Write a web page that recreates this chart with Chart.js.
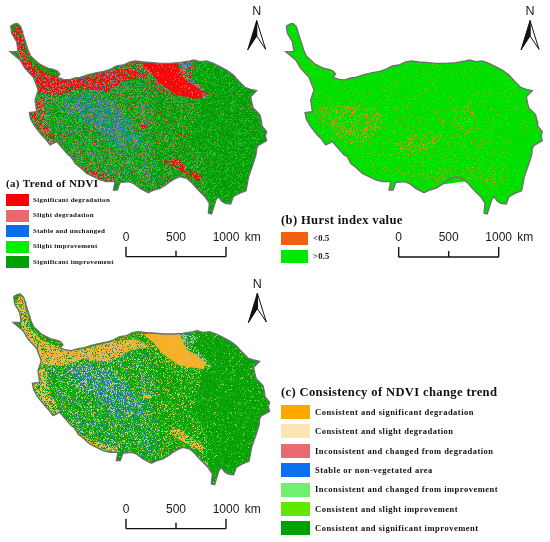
<!DOCTYPE html>
<html>
<head>
<meta charset="utf-8">
<script src="https://cdn.jsdelivr.net/npm/chart.js@4"></script>
<style>
  html, body { margin: 0; padding: 0; background: #fff; }
  #page { position: relative; width: 550px; height: 542px; overflow: hidden; }
  canvas { position: absolute; filter: blur(0.3px); }
  .title, .label { position: absolute; font-family: "Liberation Serif", serif; font-weight: bold; color: #111; white-space: nowrap; line-height: 1; filter: blur(0.25px); }
  .swatch { position: absolute; }
</style>
</head>
<body>
<div id="page"></div>
<script>
// legend text
const trend_labels = ["Significant degradation", "Slight degradation", "Stable and unchanged", "Slight improvement", "Significant improvement"];
const hurst_labels = ["<0.5", ">0.5"];
const consistency_labels = ["Consistent and significant degradation", "Consistent and slight degradation", "Inconsistent and changed from degradation", "Stable or non-vegetated area", "Inconsistent and changed from improvement", "Consistent and slight improvement", "Consistent and significant improvement"];
const scale_ticks_km = [0, 500, 1000];

// map shapes, in grid units (3 units = 10 km)
const plateau_outline = [[32,78],[42,72],[52,70],[62,80],[66,92],[68,100],[73,115],[78,130],[84,150],[92,168],[115,190],[130,198],[145,205],[160,208],[172,213],[180,222],[172,232],[190,238],[205,240],[225,234],[240,232],[265,224],[290,218],[312,214],[330,208],[350,198],[370,195],[388,186],[405,183],[430,186],[450,187],[480,190],[510,190],[540,188],[570,183],[582,180],[600,185],[620,183],[640,190],[660,200],[682,212],[700,225],[718,245],[735,262],[752,268],[770,272],[752,290],[756,310],[760,325],[772,336],[780,345],[784,362],[786,378],[800,395],[796,408],[800,422],[775,436],[770,445],[768,465],[760,490],[746,530],[742,552],[738,572],[718,580],[700,590],[692,612],[676,610],[665,604],[655,590],[648,600],[640,625],[635,642],[625,640],[628,610],[615,590],[600,575],[590,565],[575,548],[560,535],[540,530],[525,536],[510,545],[495,556],[480,565],[462,570],[445,578],[420,565],[400,550],[385,545],[360,548],[352,570],[340,570],[345,545],[320,545],[300,540],[280,530],[260,520],[240,502],[225,490],[215,470],[205,465],[185,442],[170,425],[150,435],[138,418],[125,405],[105,380],[92,358],[88,338],[110,335],[105,300],[115,270],[100,232],[75,205],[60,180],[30,155],[55,155],[50,125],[35,100],[32,78]];
const west_zone = [[105,300],[115,270],[175,285],[230,265],[300,270],[360,245],[430,240],[470,330],[450,420],[470,470],[470,567],[445,578],[420,565],[400,550],[385,545],[360,548],[345,545],[320,545],[300,540],[260,520],[225,490],[205,465],[170,425],[150,435],[125,405],[105,380],[92,358],[88,338],[110,335],[105,300]];
const mid_zone = [[430,240],[480,250],[530,285],[600,295],[590,340],[570,420],[610,480],[622,540],[615,590],[590,565],[560,535],[540,530],[510,545],[480,565],[470,567],[470,470],[450,420],[470,330],[430,240]];
const north_edge = [[330,208],[370,195],[405,183],[450,187],[480,250],[530,285],[600,295],[560,300],[480,275],[420,232],[400,205],[330,212],[330,208]];
const nw_strip = [[35,100],[50,75],[62,82],[70,115],[85,165],[115,195],[145,210],[170,222],[172,235],[205,242],[175,285],[115,280],[105,235],[75,205],[60,180],[52,155],[50,125],[35,100]];
const nw_green = [[74,128],[84,155],[92,168],[115,190],[145,205],[172,215],[176,226],[150,222],[112,205],[84,175],[74,128]];
const north_band = [[175,240],[240,235],[330,212],[400,205],[440,230],[380,240],[320,275],[240,265],[180,285],[115,280],[110,240],[175,240]];
const ne_rim = [[510,190],[570,183],[585,200],[570,225],[628,285],[612,300],[600,275],[550,235],[530,190],[510,190]];
const ne_block = [[420,190],[530,190],[550,235],[610,275],[602,296],[530,285],[480,250],[450,215],[420,190]];
const core_blue = [[190,290],[290,275],[340,300],[390,365],[425,430],[350,450],[290,385],[200,340],[190,290]];
const south_streak = [[480,482],[530,474],[560,500],[600,525],[600,545],[560,525],[510,495],[480,482]];
const sw_edge = [[225,490],[262,505],[300,520],[345,530],[345,545],[300,540],[260,520],[225,490]];
const west_edge = [[105,300],[130,290],[140,360],[170,425],[150,435],[125,405],[105,380],[92,358],[88,338],[110,335],[105,300]];
const mid_spot = [[420,372],[445,374],[442,384],[424,382],[420,372]];
const hurst_wide = [[110,300],[320,300],[420,380],[520,300],[640,300],[700,420],[700,560],[600,540],[450,560],[300,520],[200,440],[120,390],[110,300]];
const hurst_west = [[125,320],[260,315],[320,345],[320,385],[260,430],[210,430],[150,375],[125,320]];
const hurst_centre = [[360,430],[420,405],[500,410],[480,440],[400,470],[365,460],[360,430]];
const hurst_east = [[525,330],[590,310],[610,345],[590,400],[540,390],[525,330]];
const hurst_south = [[430,520],[520,500],[620,490],[690,540],[650,560],[560,530],[470,540],[430,520]];
const arrow_left = [[0,0],[-27,88],[0,46],[0,0]];
const arrow_right = [[0,0],[27,86],[0,46],[0,0]];

// colours
const trend_colors = ["#ff0000", "#e86a70", "#0a6ee8", "#00f000", "#00a000"];
const hurst_colors = ["#f06010", "#00e800"];
const consistency_colors = ["#ffa800", "#fde4b4", "#e86a70", "#0a70f0", "#70f070", "#60e800", "#00a000"];

const RED = "#f80808", PINK = "#c87a70", BLUE = "#2a80c8", LIME = "#1cc41c", GREEN = "#049c08";
const ORANGE = "#f8b020", BEIGE = "#c8c490", LEAF = "#30c010", DARK = "#06a008", HURST = "#c89a18", BRIGHT = "#00e000";

// mixing steps so the texture has no visible rows
function mixCell(x, y) {
    let h = Math.imul(x + 1, 73856093) ^ Math.imul(y + 1, 19349663);
    h = Math.imul(h ^ (h >>> 15), 2246822519);
    h = Math.imul(h ^ (h >>> 13), 3266489917);
    return (h ^ (h >>> 16)) >>> 0;
}

// speckled fill so the zones look like classified raster cells
function speckle(colors, weights) {
    const size = 120;
    const raw = document.createElement("canvas");
    raw.width = size;
    raw.height = size;
    const rawCtx = raw.getContext("2d");
    const total = weights.reduce((a, b) => a + b, 0);
    for (let y = 0; y < size; y++) {
        for (let x = 0; x < size; x++) {
            const cell = (mixCell(x, y) % 1000) / 1000 * total;
            let sum = 0;
            let pick = 0;
            for (let i = 0; i < weights.length; i++) {
                sum += weights[i];
                if (cell < sum) { pick = i; break; }
            }
            rawCtx.fillStyle = colors[pick];
            rawCtx.fillRect(x, y, 1, 1);
        }
    }
    // soften it the way the reference image is soft
    const tile = document.createElement("canvas");
    tile.width = size;
    tile.height = size;
    const ctx = tile.getContext("2d");
    ctx.drawImage(raw, 0, 0);
    ctx.filter = "blur(0.55px)";
    ctx.drawImage(raw, 0, 0);
    return ctx.createPattern(tile, "repeat");
}

const panel_a_zones = [
    [plateau_outline, speckle([GREEN, LIME, PINK], [80, 18, 2])],
    [mid_zone, speckle([GREEN, LIME, PINK, BLUE, RED], [68, 20, 9, 1, 2])],
    [west_zone, speckle([GREEN, LIME, PINK, BLUE, RED], [50, 25, 14, 9, 2])],
    [north_edge, speckle([GREEN, PINK, RED, LIME, BLUE], [38, 24, 18, 12, 8])],
    [nw_strip, speckle([RED, PINK, GREEN, BLUE], [50, 24, 20, 6])],
    [nw_green, speckle([GREEN, LIME, RED], [72, 20, 8])],
    [north_band, speckle([RED, PINK, BLUE, GREEN], [62, 20, 8, 10])],
    [ne_rim, speckle([PINK, BLUE, GREEN, RED], [36, 22, 26, 16])],
    [ne_block, speckle([RED, PINK], [94, 6])],
    [core_blue, speckle([BLUE, GREEN, PINK, LIME], [40, 30, 16, 14])],
    [west_edge, speckle([RED, PINK, GREEN], [22, 38, 40])],
    [sw_edge, speckle([RED, PINK, GREEN], [30, 30, 40])],
    [south_streak, speckle([RED, PINK, GREEN], [50, 24, 26])],
    [mid_spot, speckle([RED, PINK], [80, 20])],
];
const panel_b_zones = [
    [plateau_outline, speckle([BRIGHT, HURST], [98, 2])],
    [hurst_wide, speckle([BRIGHT, HURST], [94, 6])],
    [hurst_south, speckle([BRIGHT, HURST], [86, 14])],
    [hurst_east, speckle([BRIGHT, HURST], [82, 18])],
    [hurst_centre, speckle([BRIGHT, HURST], [74, 26])],
    [hurst_west, speckle([BRIGHT, HURST], [70, 30])],
];
const panel_c_zones = [
    [plateau_outline, speckle([DARK, LEAF, BEIGE], [86, 12, 2])],
    [mid_zone, speckle([DARK, LEAF, BEIGE, ORANGE], [66, 22, 9, 3])],
    [west_zone, speckle([DARK, LEAF, BEIGE, BLUE, ORANGE], [46, 26, 13, 12, 3])],
    [north_edge, speckle([DARK, LEAF, ORANGE, BEIGE], [52, 22, 14, 12])],
    [nw_strip, speckle([ORANGE, BEIGE, DARK, BLUE], [50, 22, 22, 6])],
    [nw_green, speckle([DARK, LEAF, ORANGE], [70, 22, 8])],
    [north_band, speckle([ORANGE, BEIGE, BLUE, DARK], [64, 20, 6, 10])],
    [ne_rim, speckle([BEIGE, BLUE, DARK, LEAF], [30, 20, 32, 18])],
    [ne_block, speckle([ORANGE, BEIGE], [92, 8])],
    [core_blue, speckle([BLUE, BEIGE, DARK, LEAF], [40, 24, 24, 12])],
    [west_edge, speckle([ORANGE, BEIGE, DARK], [34, 30, 36])],
    [sw_edge, speckle([ORANGE, BEIGE, DARK], [36, 28, 36])],
    [south_streak, speckle([ORANGE, BEIGE, DARK], [54, 18, 28])],
    [mid_spot, speckle([ORANGE, BEIGE], [85, 15])],
];

const UNITS_PER_KM = 0.3;
const page = document.getElementById("page");

function pts(list, dx, dy) {
    return list.map(p => ({ x: p[0] + (dx || 0), y: p[1] + (dy || 0) }));
}

function makePanel(cfg) {
    const canvas = document.createElement("canvas");
    canvas.width = cfg.w;
    canvas.height = cfg.h;
    canvas.style.left = cfg.left + "px";
    canvas.style.top = cfg.top + "px";
    page.appendChild(canvas);

    const sets = [];
    cfg.zones.forEach(z => {
        sets.push({ data: pts(z[0]), backgroundColor: z[1], borderWidth: 0, fill: "shape" });
    });
    sets.push({ data: pts(plateau_outline), borderColor: "#6e6e6e", borderWidth: 1.3, fill: false });

    // scale bar
    const barX = km => cfg.barX + km * UNITS_PER_KM;
    const barLine = { borderColor: "#111", borderWidth: 1.4, fill: false };
    sets.push({ ...barLine, data: [{ x: barX(0), y: cfg.barY }, { x: barX(1000), y: cfg.barY }] });
    scale_ticks_km.forEach(km => {
        const rise = km === 500 ? 18 : 30;
        sets.push({ ...barLine, data: [{ x: barX(km), y: cfg.barY }, { x: barX(km), y: cfg.barY - rise }] });
    });

    // north arrow
    sets.push({ data: pts(arrow_right, cfg.arrowX, cfg.arrowY), backgroundColor: "#fff", borderColor: "#111", borderWidth: 1, fill: "shape" });
    sets.push({ data: pts(arrow_left, cfg.arrowX, cfg.arrowY), backgroundColor: "#111", borderColor: "#111", borderWidth: 1, fill: "shape" });

    // first dataset is drawn on top, so give the later ones the lower order
    sets.forEach((s, i) => {
        s.order = sets.length - i;
        s.showLine = true;
        s.pointRadius = 0;
        s.tension = 0;
    });

    const mapText = {
        id: "mapText",
        afterDatasetsDraw(chart) {
            const { ctx, scales } = chart;
            ctx.save();
            ctx.fillStyle = "#1a1a1a";
            ctx.font = '12px "Liberation Sans", sans-serif';
            ctx.textAlign = "center";
            ctx.textBaseline = "middle";
            const y = scales.y.getPixelForValue(cfg.barY - 57);
            scale_ticks_km.forEach(km => {
                ctx.fillText(String(km), scales.x.getPixelForValue(barX(km)), y);
            });
            ctx.fillText("km", scales.x.getPixelForValue(barX(1000) + 80), y);
            ctx.font = '12.5px "Liberation Sans", sans-serif';
            ctx.fillText("N", scales.x.getPixelForValue(cfg.arrowX), scales.y.getPixelForValue(cfg.arrowY - 26));
            ctx.restore();
        }
    };

    new Chart(canvas, {
        type: "scatter",
        data: { datasets: sets },
        options: {
            responsive: false,
            animation: false,
            devicePixelRatio: 1,
            layout: { padding: 0 },
            plugins: { legend: { display: false }, tooltip: { enabled: false } },
            scales: {
                x: { display: false, min: -cfg.shiftX, max: cfg.w * 3 - cfg.shiftX },
                y: { display: false, reverse: true, min: -cfg.shiftY, max: cfg.h * 3 - cfg.shiftY }
            }
        },
        plugins: [mapText]
    });
}

makePanel({ left: 0, top: 0, w: 275, h: 270, shiftX: 0, shiftY: 0, zones: panel_a_zones, barX: 378, barY: 770, arrowX: 770, arrowY: 62 });
makePanel({ left: 275, top: 0, w: 275, h: 270, shiftX: 2, shiftY: 0, zones: panel_b_zones, barX: 369, barY: 771, arrowX: 763, arrowY: 62 });
makePanel({ left: 0, top: 270, w: 275, h: 272, shiftX: 9, shiftY: 2, zones: panel_c_zones, barX: 369, barY: 774, arrowX: 763, arrowY: 68 });

function addLegend(title, titleX, titleY, labels, colors, o) {
    const t = document.createElement("div");
    t.className = "title";
    t.textContent = title;
    t.style.left = titleX + "px";
    t.style.top = titleY + "px";
    t.style.fontSize = o.titleSize + "px";
    t.style.letterSpacing = "0.35px";
    page.appendChild(t);
    labels.forEach((name, i) => {
        const y = o.y + i * o.step;
        const s = document.createElement("div");
        s.className = "swatch";
        s.style.cssText = `left:${o.x}px;top:${y}px;width:${o.w}px;height:${o.h}px;background:${colors[i]}`;
        page.appendChild(s);
        const l = document.createElement("div");
        l.className = "label";
        l.textContent = name;
        l.style.left = o.textX + "px";
        l.style.top = (y + o.h / 2 - o.size / 2) + "px";
        l.style.fontSize = o.size + "px";
        l.style.letterSpacing = o.spacing + "px";
        page.appendChild(l);
    });
}

addLegend("(a) Trend of NDVI", 6, 178, trend_labels, trend_colors, { titleSize: 11, x: 5.5, y: 194, w: 23, h: 12, step: 15.5, textX: 33, size: 7, spacing: 0.3 });
addLegend("(b) Hurst index value", 281, 214, hurst_labels, hurst_colors, { titleSize: 12.6, x: 281, y: 232, w: 27, h: 13, step: 18, textX: 313, size: 8.5, spacing: 0.3 });
addLegend("(c) Consistency of NDVI change trend", 281, 386, consistency_labels, consistency_colors, { titleSize: 12.6, x: 281, y: 405, w: 29, h: 14, step: 19.4, textX: 315, size: 8.5, spacing: 0.5 });
</script>
</body>
</html>
